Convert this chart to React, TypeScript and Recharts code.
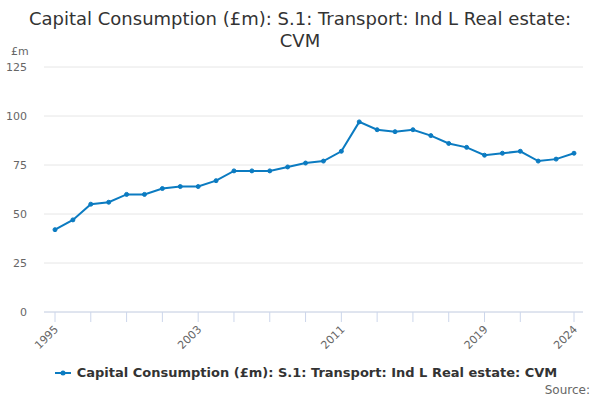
import React from 'react';
import { LineChart, Line, XAxis, YAxis, CartesianGrid, Legend } from 'recharts';

const years = [
  1995, 1996, 1997, 1998, 1999, 2000, 2001, 2002, 2003, 2004,
  2005, 2006, 2007, 2008, 2009, 2010, 2011, 2012, 2013, 2014,
  2015, 2016, 2017, 2018, 2019, 2020, 2021, 2022, 2023, 2024,
];
const values = [
  42, 47, 55, 56, 60, 60, 63, 64, 64, 67,
  72, 72, 72, 74, 76, 77, 82, 97, 93, 92,
  93, 90, 86, 84, 80, 81, 82, 77, 78, 81,
];
const xTicks = [1995, 1997, 1999, 2001, 2003, 2005, 2007, 2009, 2011, 2013, 2015, 2017, 2019, 2021, 2024];
const xLabels = [1995, 2003, 2011, 2019, 2024];
const yTicks = [0, 25, 50, 75, 100, 125];

const seriesName = 'Capital Consumption (£m): S.1: Transport: Ind L Real estate: CVM';
const data = years.map((year, i) => ({ year, value: values[i] }));

const FONT = '"DejaVu Sans", sans-serif';
const BLUE = '#0b7bc1';

const YearTick = (props: any) => {
  const { x, y, payload } = props;
  if (!xLabels.includes(payload.value)) return null;
  return (
    <text
      x={x + 4}
      y={y + 6}
      transform={`rotate(-45 ${x + 4} ${y + 6})`}
      textAnchor="end"
      fontSize={11}
      fill="#666"
      fontFamily={FONT}
    >
      {payload.value}
    </text>
  );
};

const LegendContent = () => (
  <div style={{ display: 'flex', justifyContent: 'center', alignItems: 'center', fontFamily: FONT, paddingLeft: 12 }}>
    <svg width={18} height={10} style={{ marginRight: 4 }}>
      <line x1={0} y1={5} x2={16} y2={5} stroke={BLUE} strokeWidth={2} />
      <circle cx={8} cy={5} r={2.5} fill={BLUE} />
    </svg>
    <span style={{ fontSize: 13, fontWeight: 'bold', color: '#333' }}>{seriesName}</span>
  </div>
);

export default function App() {
  return (
    <div style={{ position: 'absolute', left: 0, top: 0, width: 600, height: 400, background: '#fff', fontFamily: FONT }}>
      <div
        style={{
          position: 'absolute',
          top: 8,
          left: 20,
          width: 560,
          textAlign: 'center',
          fontSize: 18,
          lineHeight: '22px',
          color: '#333',
        }}
      >
        Capital Consumption (£m): S.1: Transport: Ind L Real estate: CVM
      </div>
      <div style={{ position: 'absolute', top: 45, left: 11, fontSize: 11, color: '#666' }}>£m</div>
      <LineChart width={600} height={400} data={data} margin={{ top: 67, right: 17, bottom: 18, left: 0 }}>
        <CartesianGrid horizontal vertical={false} stroke="#e6e6e6" />
        <XAxis
          dataKey="year"
          type="number"
          domain={[1995, 2024]}
          ticks={xTicks}
          interval={0}
          padding={{ left: 11, right: 9 }}
          stroke="#ccd6eb"
          tickSize={10}
          tick={<YearTick />}
          height={50}
        />
        <YAxis
          domain={[0, 125]}
          ticks={yTicks}
          width={44}
          axisLine={false}
          tickLine={false}
          tickSize={0}
          tickMargin={17}
          tick={{ fontSize: 11, fill: '#666', fontFamily: FONT }}
        />
        <Legend
          verticalAlign="bottom"
          content={<LegendContent />}
          wrapperStyle={{ position: 'absolute', top: 365, left: 0, width: 600, height: 20 }}
        />
        <Line
          type="linear"
          dataKey="value"
          name={seriesName}
          stroke={BLUE}
          strokeWidth={2}
          dot={{ r: 2, fill: BLUE, stroke: BLUE, strokeWidth: 1 }}
          isAnimationActive={false}
        />
      </LineChart>
      <div style={{ position: 'absolute', top: 383, right: 10, fontSize: 12, color: '#666' }}>Source:</div>
    </div>
  );
}
